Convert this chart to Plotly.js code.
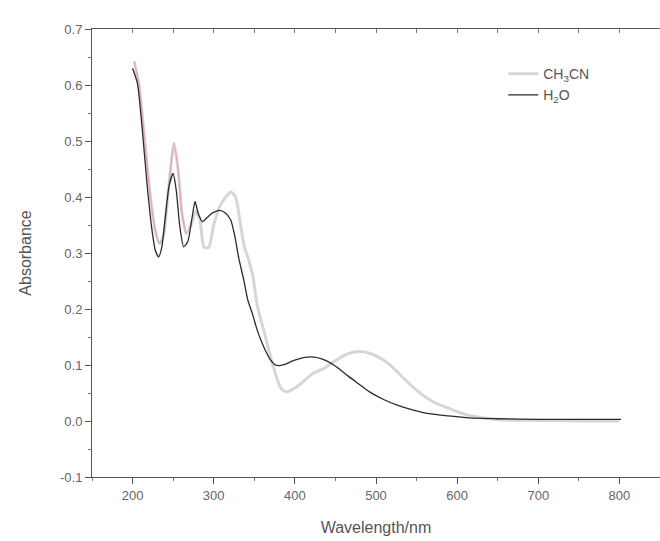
<!DOCTYPE html>
<html>
<head>
<meta charset="utf-8">
<script src="https://cdn.plot.ly/plotly-3.0.1.min.js"></script>
<style>html,body{margin:0;padding:0;background:#fff;}#chart{width:660px;height:541px;}</style>
</head>
<body>
<div id="chart"></div>
<script>
// CH3CN spectrum (wavelength nm, absorbance)
const wlCH3CN = [202, 208, 215, 222, 228, 233, 238, 244, 251, 256, 261, 266, 272, 278, 283, 288, 294, 300, 308, 315, 321, 327, 333, 338, 342, 348, 354, 362, 370, 377, 383, 390, 399, 410, 422, 436, 450, 465, 478, 490, 502, 512, 522, 535, 555, 572, 589, 605, 622, 640, 660, 700, 750, 800];
const absCH3CN = [0.642, 0.60, 0.50, 0.40, 0.34, 0.317, 0.33, 0.41, 0.496, 0.45, 0.37, 0.335, 0.35, 0.375, 0.36, 0.31, 0.31, 0.35, 0.385, 0.40, 0.409, 0.40, 0.35, 0.31, 0.293, 0.26, 0.204, 0.16, 0.115, 0.08, 0.058, 0.052, 0.058, 0.07, 0.085, 0.094, 0.108, 0.12, 0.124, 0.122, 0.115, 0.106, 0.094, 0.075, 0.049, 0.033, 0.023, 0.014, 0.008, 0.004, 0.002, 0.001, 0.0, 0.0];
// H2O spectrum
const wlH2O = [200, 206, 212, 218, 224, 228, 232, 236, 240, 245, 250, 254, 258, 263, 268, 273, 277, 281, 286, 291, 297, 302, 307, 314, 321, 326, 331, 337, 342, 348, 353, 358, 364, 370, 375, 381, 388, 395, 405, 415, 424, 433, 441, 452, 465, 478, 492, 510, 527, 545, 565, 589, 620, 650, 700, 750, 802];
const absH2O = [0.63, 0.603, 0.52, 0.42, 0.34, 0.305, 0.293, 0.31, 0.36, 0.42, 0.442, 0.41, 0.35, 0.311, 0.32, 0.36, 0.392, 0.37, 0.356, 0.362, 0.37, 0.374, 0.376, 0.372, 0.359, 0.33, 0.29, 0.252, 0.216, 0.19, 0.165, 0.145, 0.125, 0.109, 0.101, 0.099, 0.101, 0.106, 0.111, 0.114, 0.114, 0.111, 0.106, 0.096, 0.081, 0.067, 0.052, 0.038, 0.028, 0.02, 0.013, 0.009, 0.005, 0.004, 0.003, 0.003, 0.003];
const pinkEnd = 12; // pink trace overlays the early CH3CN points

const xTickVals = [200, 300, 400, 500, 600, 700, 800];
const xTopTickVals = [200, 250, 300, 350, 400, 450, 500, 550, 600, 650, 700, 750, 800];
const yTickVals = [-0.1, 0.0, 0.1, 0.2, 0.3, 0.4, 0.5, 0.6, 0.7];
const yTickText = ['-0.1', '0.0', '0.1', '0.2', '0.3', '0.4', '0.5', '0.6', '0.7'];

const traces = [
  {x: wlCH3CN, y: absCH3CN, mode: 'lines', name: 'CH<sub>3</sub>CN',
   line: {color: '#d6d6d6', width: 3, shape: 'spline', smoothing: 0.6}},
  {x: wlCH3CN.slice(0, pinkEnd), y: absCH3CN.slice(0, pinkEnd), mode: 'lines', showlegend: false,
   line: {color: '#e7a5b5', width: 1.2, shape: 'spline', smoothing: 0.6}, hoverinfo: 'skip'},
  {x: wlH2O, y: absH2O, mode: 'lines', name: 'H<sub>2</sub>O',
   line: {color: '#2b2b2b', width: 1.3, shape: 'spline', smoothing: 0.6}},
  {x: [800], y: [0.003], xaxis: 'x2', yaxis: 'y', mode: 'lines', showlegend: false, hoverinfo: 'skip',
   line: {color: 'rgba(0,0,0,0)'}}
];

const fam = 'Liberation Sans, Arial, sans-serif';
const axisFont = {family: fam, size: 13, color: '#666'};
const layout = {
  width: 660, height: 541,
  margin: {l: 92, r: 0, t: 29, b: 64},
  paper_bgcolor: '#fff', plot_bgcolor: '#fff',
  showlegend: true,
  legend: {x: 0.724, y: 0.935, xanchor: 'left', yanchor: 'top', bgcolor: 'rgba(0,0,0,0)',
           font: {family: fam, size: 14, color: '#555'},
           tracegroupgap: 0},
  xaxis: {range: [150, 850], tickvals: xTickVals, ticks: 'outside', ticklen: 6, tickcolor: '#555',
          showgrid: false, zeroline: false, showline: true, linecolor: '#555', linewidth: 1,
          tickfont: axisFont,
          minor: {dtick: 50, tick0: 150, ticks: 'outside', ticklen: 3, tickcolor: '#777'},
          title: {text: 'Wavelength/nm', font: {family: fam, size: 16, color: '#555'}, standoff: 20}},
  xaxis2: {range: [150, 850], overlaying: 'x', side: 'top', tickvals: xTopTickVals,
           ticks: 'inside', ticklen: 4, tickcolor: '#777', showticklabels: false, showgrid: false,
           zeroline: false, showline: true, linecolor: '#555', linewidth: 1},
  yaxis: {range: [-0.1, 0.7], tickvals: yTickVals, ticktext: yTickText, ticks: 'outside', ticklen: 6, tickcolor: '#555',
          showgrid: false, zeroline: false, showline: true, linecolor: '#555', linewidth: 1,
          tickfont: axisFont,
          minor: {dtick: 0.05, tick0: -0.1, ticks: 'outside', ticklen: 3, tickcolor: '#777'},
          title: {text: 'Absorbance', font: {family: fam, size: 16, color: '#555'}, standoff: 24}}
};

Plotly.newPlot('chart', traces, layout, {displayModeBar: false, staticPlot: true});
</script>
</body>
</html>
